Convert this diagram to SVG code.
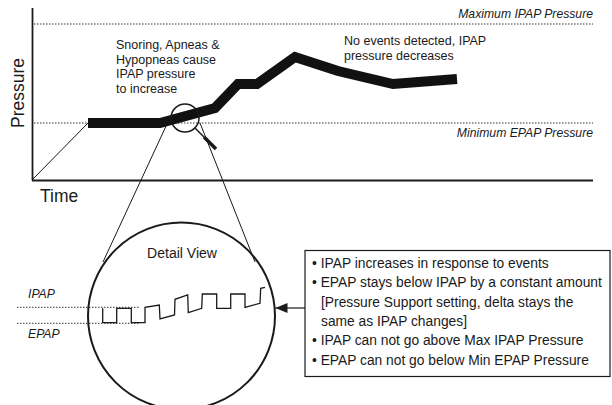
<svg xmlns="http://www.w3.org/2000/svg" width="612" height="405" viewBox="0 0 612 405">
<defs>
<style>
text{font-family:"Liberation Sans",Arial,sans-serif;fill:#1a1a1a}
.lbl{font-size:12.5px}
.blt{font-size:13.8px}
.ital{font-size:12.2px;font-style:italic}
.big{font-size:17.5px}
.thin{stroke:#1a1a1a;stroke-width:1;fill:none}
.dot{stroke:#333;stroke-width:1;stroke-dasharray:1.5 1.5;fill:none}
</style>
<marker id="ah" viewBox="0 0 12 10" refX="12" refY="5" markerWidth="12" markerHeight="10" markerUnits="userSpaceOnUse" orient="auto">
<path d="M0,0 L12,5 L0,10 Z" fill="#1a1a1a"/>
</marker>
</defs>
<rect width="612" height="405" fill="#fff"/>

<g id="chart">
<line x1="32.5" y1="8" x2="32.5" y2="180.5" stroke="#1a1a1a" stroke-width="1.8"/>
<line x1="32" y1="180.5" x2="593" y2="180.5" stroke="#1a1a1a" stroke-width="1.8"/>
<line class="dot" x1="34" y1="24" x2="593" y2="24"/>
<line class="dot" x1="34" y1="123" x2="593" y2="123"/>
<text class="ital" x="593" y="18" text-anchor="end">Maximum IPAP Pressure</text>
<text class="ital" x="593" y="137" text-anchor="end">Minimum EPAP Pressure</text>
<text class="big" transform="translate(24,93) rotate(-90)" text-anchor="middle">Pressure</text>
<text class="big" x="40" y="202">Time</text>
</g>

<g id="pressure-curve">
<line class="thin" x1="32" y1="180" x2="88" y2="123"/>
<polyline points="88,123 160,123 215,108 238,84 257,84 295,57 338,71 393,84 457,79" fill="none" stroke="#111" stroke-width="10" stroke-linejoin="miter"/>
</g>

<g id="note-increase">
<text class="lbl" x="116" y="49">Snoring, Apneas &amp;</text>
<text class="lbl" x="116" y="63.5">Hypopneas cause</text>
<text class="lbl" x="116" y="78">IPAP pressure</text>
<text class="lbl" x="116" y="92.5">to increase</text>
</g>

<g id="note-decrease">
<text class="lbl" x="344" y="45">No events detected, IPAP</text>
<text class="lbl" x="344" y="59.5">pressure decreases</text>
</g>

<g id="magnifier">
<circle cx="185" cy="118" r="14" fill="none" stroke="#1a1a1a" stroke-width="1.5"/>
<line x1="195" y1="128" x2="204" y2="137" stroke="#1a1a1a" stroke-width="1.5"/>
<line x1="204" y1="137" x2="216" y2="149" stroke="#1a1a1a" stroke-width="3.5"/>
</g>

<g id="connectors">
<line class="thin" x1="167" y1="124" x2="103" y2="262"/>
<line class="thin" x1="200" y1="123" x2="255" y2="262"/>
<line x1="305" y1="308" x2="275.5" y2="308" stroke="#1a1a1a" stroke-width="1.2" marker-end="url(#ah)"/>
</g>

<g id="detail-view">
<circle cx="181.5" cy="316" r="93.5" fill="none" stroke="#1a1a1a" stroke-width="2"/>
<text x="182" y="258" font-size="14" text-anchor="middle">Detail View</text>
<line class="dot" x1="17" y1="307.3" x2="140" y2="307.3"/>
<line class="dot" x1="17" y1="323.3" x2="140" y2="323.3"/>
<text class="ital" x="28" y="298" font-size="13">IPAP</text>
<text class="ital" x="28" y="338" font-size="13">EPAP</text>
<polyline points="102.7,308.3 102.7,322.7 116.7,322.7 116.7,308.3 131.3,308.3 131.3,322.7 145,322.7 145,307.3 159.3,305 160,319 174.5,315 175,299.3 187.7,295 188.3,312.7 201.7,308.3 202.3,294 216.7,294 216.7,308.3 230.7,308.3 230.7,294 245,294 245,307.3 260,303.3 260.7,288.3 265,287.3" fill="none" stroke="#1a1a1a" stroke-width="1.3"/>
</g>

<g id="notes-box">
<rect x="305" y="250.5" width="305" height="126" fill="#fff" stroke="#1a1a1a" stroke-width="1.2"/>
<text class="blt" x="312" y="268">• IPAP increases in response to events</text>
<text class="blt" x="312" y="287.3">• EPAP stays below IPAP by a constant amount</text>
<text class="blt" x="321" y="306.6">[Pressure Support setting, delta stays the</text>
<text class="blt" x="321" y="325.9">same as IPAP changes]</text>
<text class="blt" x="312" y="345.2">• IPAP can not go above Max IPAP Pressure</text>
<text class="blt" x="312" y="364.5">• EPAP can not go below Min EPAP Pressure</text>
</g>
</svg>
